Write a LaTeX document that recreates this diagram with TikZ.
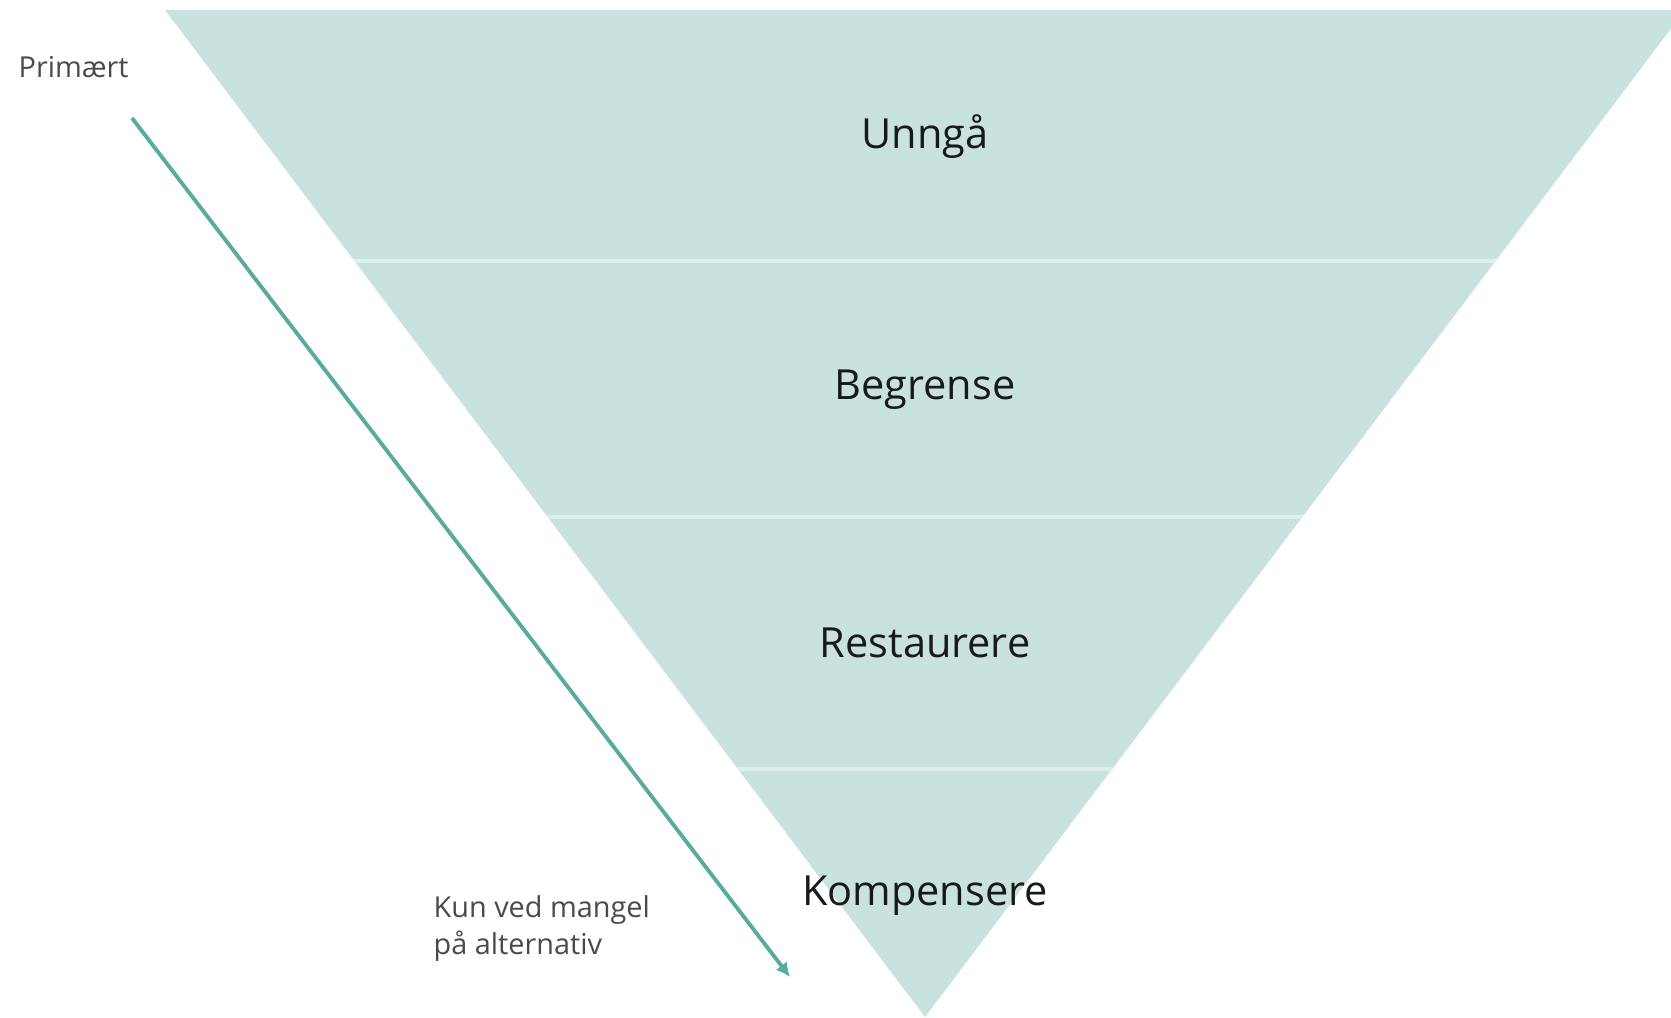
\documentclass[tikz,border=0pt]{standalone}
\usepackage{fontspec}
\usetikzlibrary{arrows.meta}
\setmainfont{Open Sans}
\definecolor{levelfill}{HTML}{C8E3DF}
\definecolor{levelgap}{HTML}{DDEFEC}
\definecolor{arrowteal}{HTML}{5AAB9F}
\definecolor{notegray}{HTML}{4A4A4A}
\tikzset{
  level/.style={font=\fontsize{11.8}{14}\selectfont, text=black!90},
  note/.style={font=\fontsize{8.2}{10.5}\selectfont, text=notegray, align=left, inner sep=0pt},
}
\begin{document}
\begin{tikzpicture}[x=0.01cm,y=0.01cm]
\useasboundingbox (0,0) rectangle (1671,1017);
\clip (0,0) rectangle (1671,1017);

% inverted triangle and its four bands
\fill[levelfill] (165,1007) -- (1685,1007) -- (925,0) -- cycle;
\begin{scope}
\clip (165,1007) -- (1685,1007) -- (925,0) -- cycle;
\foreach \y in {756,500,248}
  \draw[levelgap, line width=1.2pt] (0,\y) -- (1671,\y);
\end{scope}

\node[level] (unnga) at (925,880) {Unngå};
\node[level] (begrense) at (925,627) {Begrense};
\node[level] (restaurere) at (925,374) {Restaurere};
\node[level] (kompensere) at (925,121) {Kompensere};

% priority arrow
\node[note, anchor=west] (primaert) at (18,950) {Primært};
\node[note, anchor=north west] (mangel) at (433,122) {Kun ved mangel\\på alternativ};
\coordinate (pstart) at (132,899);
\coordinate (pend) at (790,40);
\draw[arrowteal, line width=1.1pt, -{Latex[length=4pt,width=4pt]}] (pstart) -- (pend);
\end{tikzpicture}
\end{document}
